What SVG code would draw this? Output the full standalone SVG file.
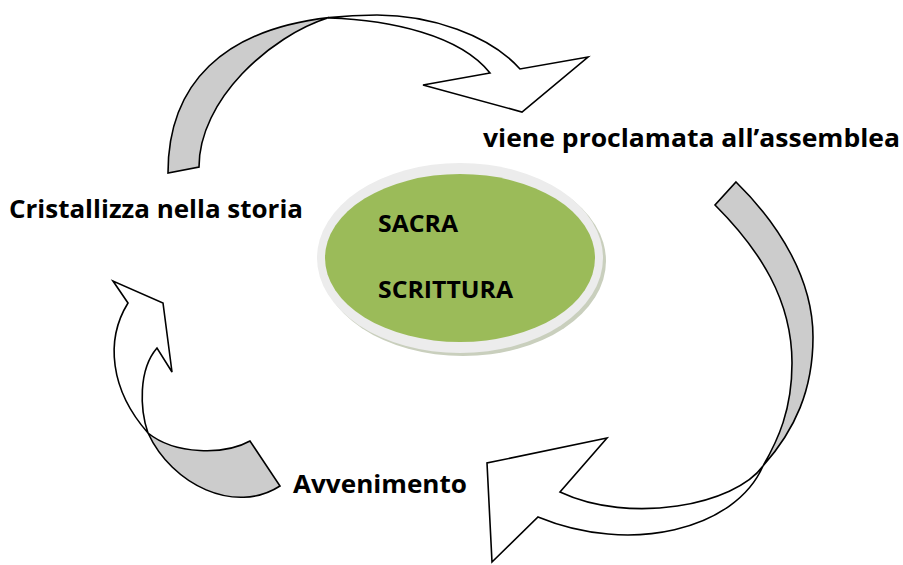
<svg xmlns="http://www.w3.org/2000/svg" width="903" height="565" viewBox="0 0 903 565">
<style>
.arr{stroke:#000;stroke-width:1.6;stroke-linejoin:miter}
.back{fill:#cccccc}
.front{fill:#ffffff}
.lbl{font-family:"Open Sans","Liberation Sans",sans-serif;font-weight:bold;font-size:25px;fill:#000}
.core{font-family:"Open Sans","Liberation Sans",sans-serif;font-weight:bold;font-size:23px;fill:#000}
</style>
<rect width="903" height="565" fill="#fff"/>
<g id="connectors">
  <g id="arrow-top">
    <path class="arr back" d="M168,173 C168,83 224,29.5 329,17.6 C270,36 199,100 199,167 Z"/>
    <path class="arr front" d="M329,17.6 C344,15.9 360,15 377,15 C430,15 490,35 520,69 L588,57 L522,112 L423,85 L490,73 C460,35 390,20 329,18 Z"/>
  </g>
  <g id="arrow-right">
    <path class="arr back" d="M736,182 C780,225 813,280 813,337 C813,390 795,430 763,466 C778,440 792,410 792,363 C792,300 760,250 715,205 Z"/>
    <path class="arr front" d="M763,466 C735,530 630,555 538,517 L492,562 L487,463 L607,438 L560,492 C630,525 735,505 763,466 Z"/>
  </g>
  <g id="arrow-left">
    <path class="arr back" d="M148,433 C172,485 235,515 280,486 L250,441 C225,455 175,455 148,433 Z"/>
    <path class="arr front" d="M128,303 L113,281 L163,303 L172,372 L157,348 C138,370 140,410 148,433 C110,390 105,340 128,303 Z"/>
  </g>
</g>
<g id="node-center">
  <ellipse cx="463" cy="261" rx="143" ry="95" fill="#c9cfbd"/>
  <ellipse cx="460" cy="258" rx="143" ry="95" fill="#ececec"/>
  <ellipse cx="460" cy="258" rx="135" ry="84" fill="#9bbb59"/>
  <text class="core" x="378" y="232" textLength="80" lengthAdjust="spacingAndGlyphs">SACRA</text>
  <text class="core" x="378" y="298" textLength="135" lengthAdjust="spacingAndGlyphs">SCRITTURA</text>
</g>
<g id="node-proclamata">
  <text class="lbl" x="483" y="147" textLength="417" lengthAdjust="spacingAndGlyphs">viene proclamata all’assemblea</text>
</g>
<g id="node-cristallizza">
  <text class="lbl" x="9" y="218" textLength="294" lengthAdjust="spacingAndGlyphs">Cristallizza nella storia</text>
</g>
<g id="node-avvenimento">
  <text class="lbl" x="293" y="493" textLength="174" lengthAdjust="spacingAndGlyphs">Avvenimento</text>
</g>
</svg>
